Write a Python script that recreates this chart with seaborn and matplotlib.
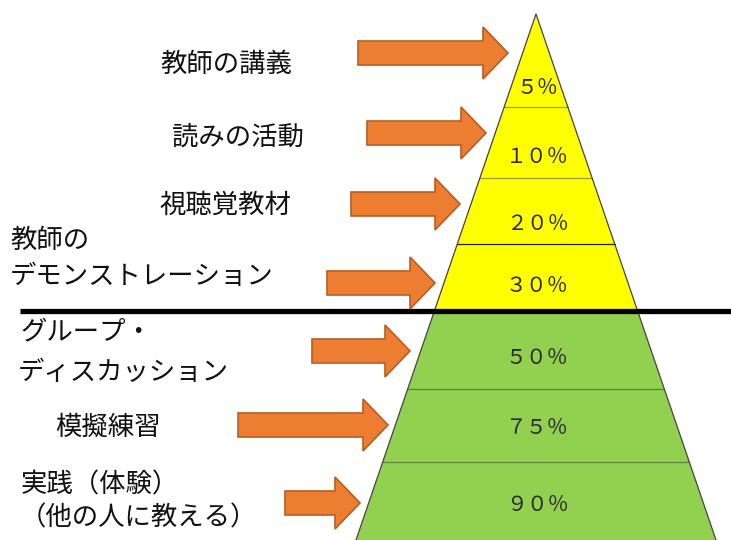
import matplotlib
matplotlib.use('Agg')
import matplotlib.pyplot as plt
from matplotlib.patches import FancyArrow, Polygon
import seaborn as sns

# 学習ピラミッド（平均学習定着率）
ritsu = ['５％', '１０％', '２０％', '３０％', '５０％', '７５％', '９０％']
gakushu = [['教師の講義'], ['読みの活動'], ['視聴覚教材'],
           ['教師の', 'デモンストレーション'],
           ['グループ・', 'ディスカッション'],
           ['模擬練習'],
           ['実践（体験）', '（他の人に教える）']]
gurupu = ['受動', '受動', '受動', '受動', '能動', '能動', '能動']

# 配置（ピクセル座標）
dan = [14, 107, 178, 244, 310, 389, 462, 540]
ritsu_y = [88, 157, 224, 286, 358, 428, 505]
label_xy = [[(160, 64)], [(172, 137)], [(160, 205)],
            [(10, 240), (10, 276)],
            [(20, 333), (18, 373)],
            [(55, 427)],
            [(21, 485), (20, 518)]]
yajirushi = [(358, 508, 53), (367, 486, 133), (351, 460, 204), (327, 435, 283),
             (312, 410, 351), (238, 388, 425), (285, 360, 503)]
iro = {'受動': '#FFFF00', '能動': '#92D050'}
sen_iro = {'受動': '#9a9a3a', '能動': '#5f7f40'}

sns.set_style('white')
plt.rcParams['font.family'] = ['Noto Sans CJK JP', 'DejaVu Sans']

fig = plt.figure(figsize=(7.31, 5.40), dpi=100)
ax = fig.add_axes([0, 0, 1, 1])
ax.set_xlim(0, 731)
ax.set_ylim(540, 0)
ax.axis('off')

cx, top, bottom, half = 536, 14, 540, 180


def hidari(y):
    return cx - half * (y - top) / (bottom - top)


def migi(y):
    return cx + half * (y - top) / (bottom - top)


for i in range(len(ritsu)):
    y0, y1 = dan[i], dan[i + 1]
    pts = [(hidari(y0), y0), (migi(y0), y0), (migi(y1), y1), (hidari(y1), y1)]
    ax.add_patch(Polygon(pts, closed=True, facecolor=iro[gurupu[i]],
                         edgecolor='none', zorder=1))
    if i > 0:
        c = '#222222' if i == 3 else sen_iro[gurupu[i]]
        ax.plot([hidari(y0), migi(y0)], [y0, y0], color=c, lw=0.9, zorder=2)
    ax.text(cx + 1, ritsu_y[i], ritsu[i], ha='center', va='center',
            fontsize=15, color='#2a2a2a', zorder=4)

# 外枠
ax.plot([hidari(bottom), cx, migi(bottom)], [bottom, top, bottom],
        color='#444444', lw=0.9, zorder=3)

# 境界線
ax.plot([20, 731], [311, 311], color='black', lw=3.8, solid_capstyle='butt', zorder=5)

for (x0, x1, y) in yajirushi:
    ax.add_patch(FancyArrow(x0, y, x1 - x0, 0, width=24, head_width=52,
                            head_length=25, length_includes_head=True,
                            facecolor='#ED7D31', edgecolor='#B85E24',
                            lw=1.2, zorder=6))

for lines, xys in zip(gakushu, label_xy):
    for s, (x, y) in zip(lines, xys):
        ax.text(x, y, s, ha='left', va='center', fontsize=19, color='#111111')

fig.savefig('out.png', dpi=100)
